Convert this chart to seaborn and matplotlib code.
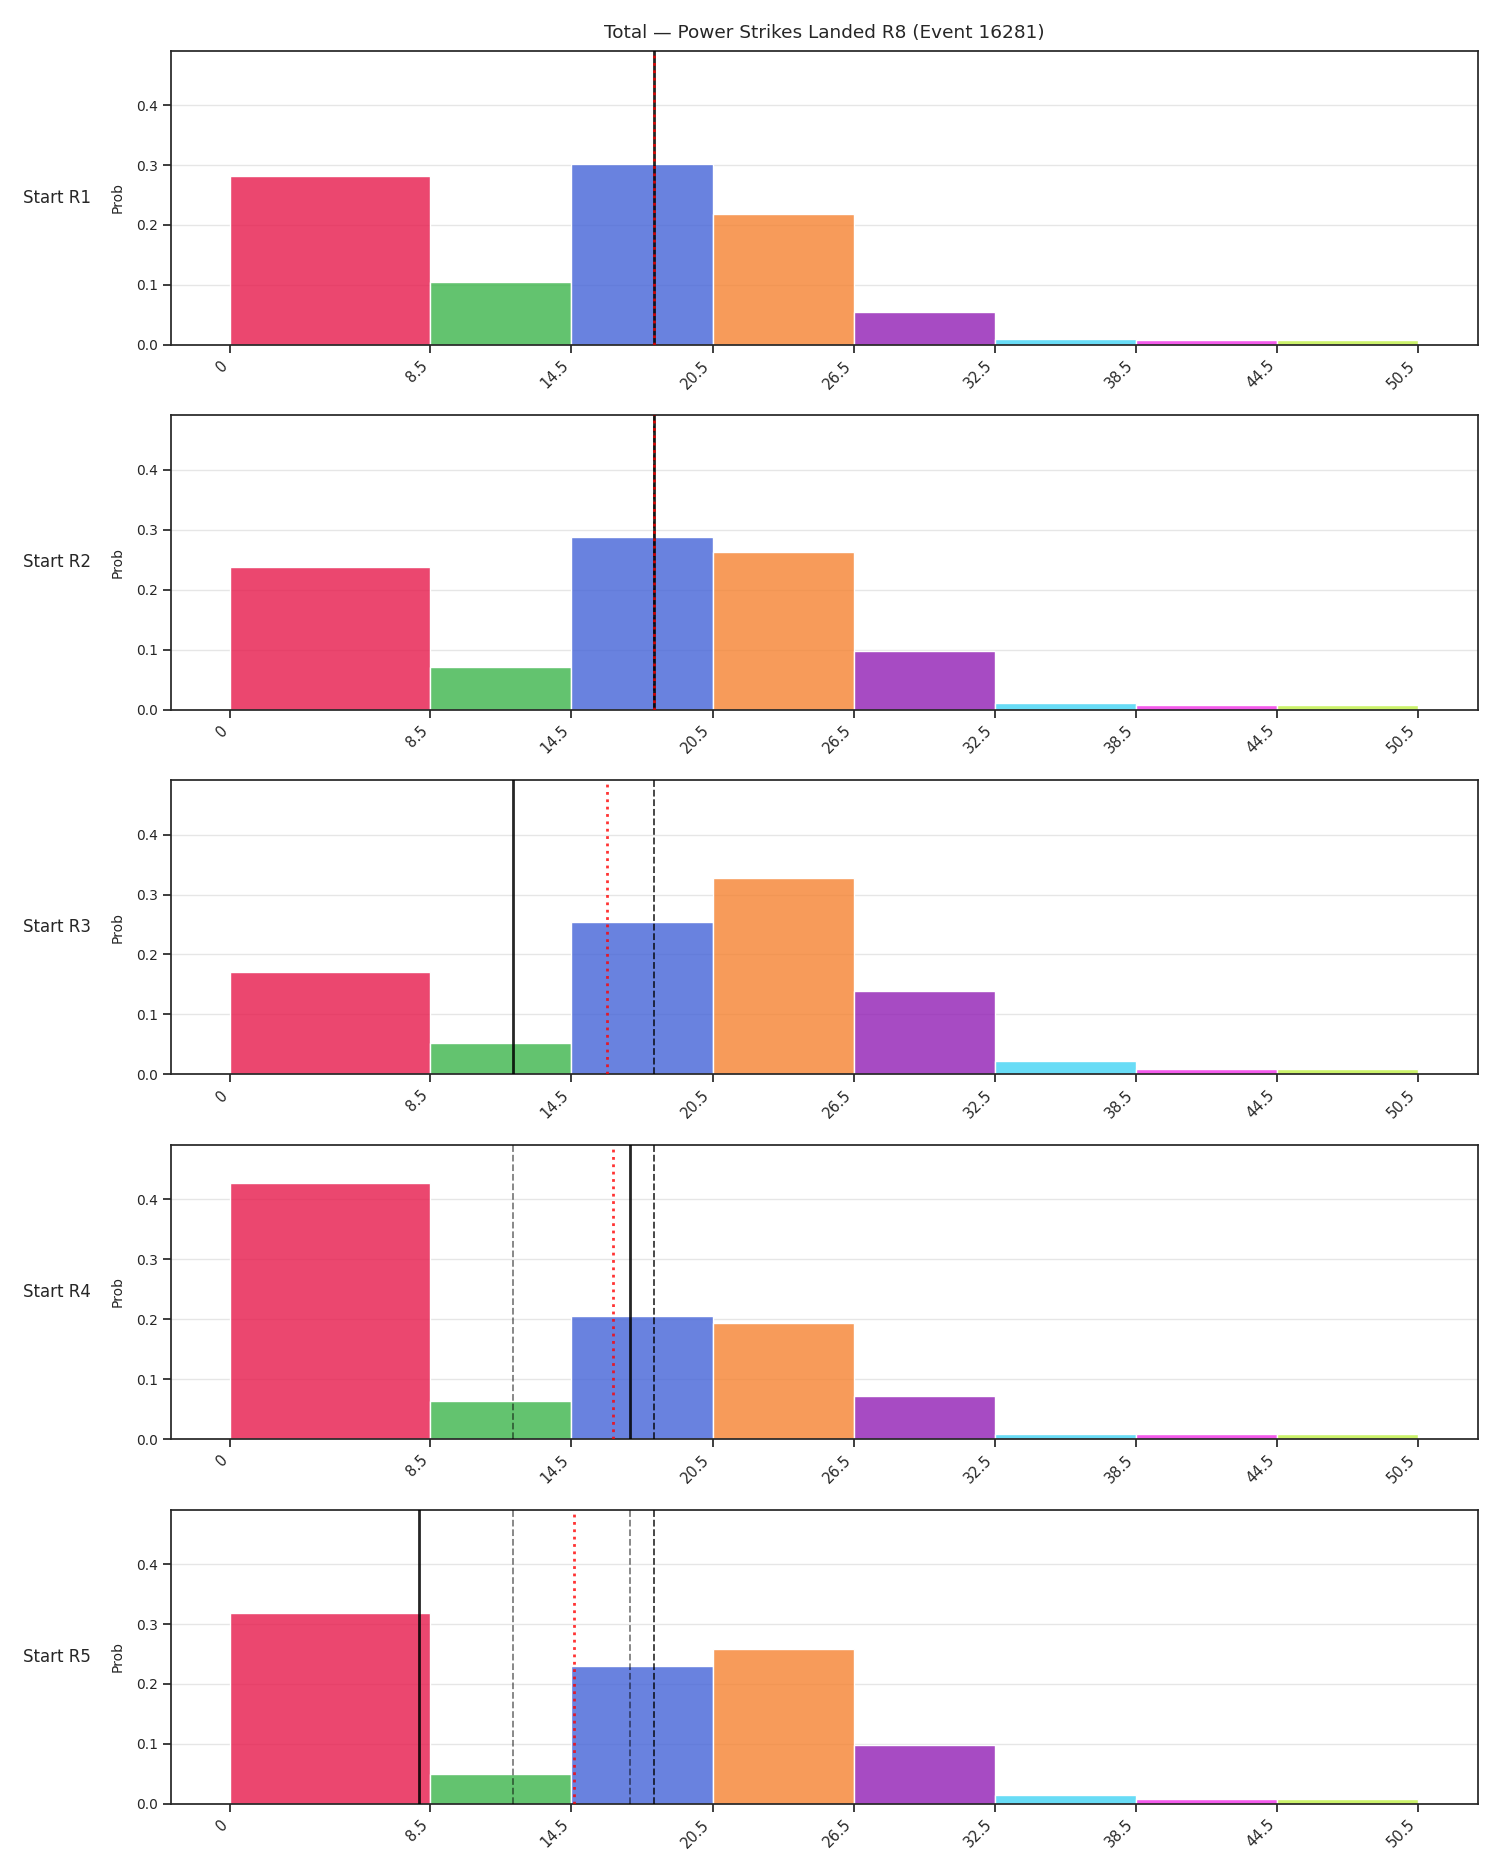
import numpy as np
import pandas as pd
import matplotlib
matplotlib.use("Agg")
import matplotlib.pyplot as plt
import seaborn as sns

# ---- data ----
edges = [0, 8.5, 14.5, 20.5, 26.5, 32.5, 38.5, 44.5, 50.5]
tick_labels = ["0", "8.5", "14.5", "20.5", "26.5", "32.5", "38.5", "44.5", "50.5"]
rows = ["Start R1", "Start R2", "Start R3", "Start R4", "Start R5"]
probs_r1 = [0.282, 0.105, 0.302, 0.219, 0.055, 0.009, 0.008, 0.008]
probs_r2 = [0.238, 0.071, 0.288, 0.263, 0.098, 0.011, 0.008, 0.008]
probs_r3 = [0.171, 0.052, 0.255, 0.328, 0.139, 0.022, 0.008, 0.008]
probs_r4 = [0.427, 0.064, 0.205, 0.193, 0.072, 0.008, 0.008, 0.008]
probs_r5 = [0.318, 0.049, 0.230, 0.258, 0.098, 0.014, 0.008, 0.008]
lines = [18, 18, 12, 17, 8]
colors = ["#e6194b", "#3cb44b", "#4363d8", "#f58231", "#911eb4", "#42d4f4", "#f032e6", "#bfef45"]
title = "Total — Power Strikes Landed R8 (Event 16281)"

all_probs = [probs_r1, probs_r2, probs_r3, probs_r4, probs_r5]

sns.set_theme(style="ticks")
plt.rcParams["font.family"] = ["DejaVu Sans"]

fig, axes = plt.subplots(5, 1, figsize=(15, 18.75), dpi=100)
fig.subplots_adjust(left=0.114, right=0.985, top=0.973, bottom=0.038, hspace=0.24)

ymax = max(max(p) for p in all_probs) * 1.15

for i, (ax, probs) in enumerate(zip(axes, all_probs)):
    for j in range(len(probs)):
        lo, hi = edges[j], edges[j + 1]
        df = pd.DataFrame({"x": [(lo + hi) / 2], "w": [probs[j]]})
        sns.histplot(data=df, x="x", weights="w", bins=[lo, hi], ax=ax,
                     color=colors[j], alpha=0.8, edgecolor="white", linewidth=1,
                     stat="count", zorder=2)
    # previous lines
    for k in range(i):
        ax.axvline(lines[k], color="black", linestyle="--", linewidth=1.3, alpha=0.5, zorder=3)
    ax.axvline(lines[i], color="black", linestyle="-", linewidth=2, alpha=0.85, zorder=4)
    mean_line = np.mean(lines[: i + 1])
    ax.axvline(mean_line, color="red", linestyle=":", linewidth=2, alpha=0.8, zorder=5)

    ax.set_xlim(-2.525, 53.025)
    ax.set_ylim(0, ymax)
    ax.set_xticks(edges)
    ax.set_xticklabels(tick_labels, rotation=45, ha="right", fontsize=10.5)
    ax.set_yticks([0.0, 0.1, 0.2, 0.3, 0.4])
    ax.set_yticklabels(["0.0", "0.1", "0.2", "0.3", "0.4"], fontsize=10)
    ax.yaxis.grid(True, color="#e6e6e6", linewidth=1, zorder=0)
    ax.set_axisbelow(True)
    ax.set_xlabel("")
    ax.set_ylabel("Prob", fontsize=10, labelpad=8)
    for s in ax.spines.values():
        s.set_visible(True)
        s.set_color("#262626")
    ax.text(-0.1133, 0.5, rows[i], transform=ax.transAxes, ha="left", va="center", fontsize=12)

axes[0].set_title(title, fontsize=13.3, pad=9)

fig.savefig("out.png", dpi=100)
